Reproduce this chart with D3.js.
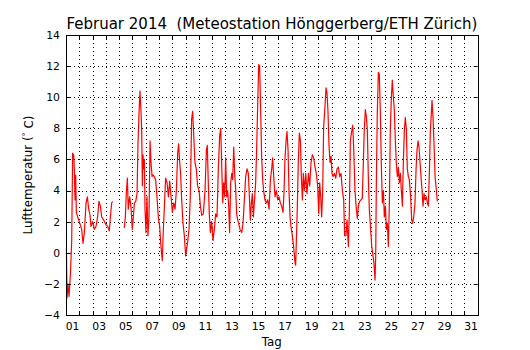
<!DOCTYPE html>
<html>
<head>
<meta charset="utf-8">
<script src="https://cdn.jsdelivr.net/npm/d3@7"></script>
<style>
  body { margin: 0; background: #fff; }
  text { font-family: "DejaVu Sans", sans-serif; fill: #000; }
</style>
</head>
<body>
<script>
// time in days since 1 Feb 00:00, temperature in deg C (null = gap in the record)
const days = [
  0.03, 0.08, 0.15, 0.23, 0.33, 0.43, 0.50, 0.58, 0.63, 0.68, 0.73, 0.78, 0.88, 1.00,
  1.18, 1.28, 1.38, 1.51, 1.61, 1.71, 1.81, 1.88, 2.01, 2.13, 2.26, 2.38, 2.48, 2.59,
  2.69, 2.84, 3.01, 3.14, 3.26, 3.34, 3.44, 3.51, 3.95,
  4.39, 4.47, 4.54, 4.62, 4.69, 4.79, 4.89, 4.99, 5.07, 5.15, 5.25, 5.35, 5.42, 5.50,
  5.57, 5.65, 5.70, 5.75, 5.80, 5.85, 5.90, 5.95, 6.02, 6.10, 6.17, 6.25, 6.33, 6.40,
  6.48, 6.55, 6.65, 6.75, 6.85, 6.95, 7.05, 7.15, 7.25, 7.33, 7.40, 7.50, 7.61, 7.71,
  7.81, 7.91, 8.01, 8.11, 8.21, 8.31, 8.41, 8.48, 8.56, 8.63, 8.71, 8.81, 8.91, 9.01,
  9.09, 9.16, 9.26, 9.36, 9.46, 9.54, 9.61, 9.71, 9.81, 9.91, 10.02, 10.12, 10.22,
  10.34, 10.47, 10.57, 10.64, 10.72, 10.79, 10.87, 10.97, 11.07, 11.17, 11.27, 11.37,
  11.47, 11.57, 11.65, 11.72, 11.80, 11.87, 11.95, 12.02, 12.10, 12.17, 12.25, 12.32,
  12.40, 12.48, 12.55, 12.63, 12.70, 12.78, 12.85, 12.93, 13.00, 13.10, 13.23, 13.33,
  13.43, 13.53, 13.63, 13.73, 13.81, 13.88, 13.96, 14.03, 14.11, 14.18, 14.28, 14.36,
  14.43, 14.51, 14.58, 14.66, 14.73, 14.81, 14.88, 14.98, 15.09, 15.19, 15.29, 15.39,
  15.49, 15.56, 15.64, 15.74, 15.84, 15.94, 16.04, 16.14, 16.24, 16.34, 16.42, 16.49,
  16.57, 16.64, 16.72, 16.79, 16.87, 16.94, 17.04, 17.14, 17.24, 17.29, 17.34, 17.42,
  17.49, 17.57, 17.65, 17.72, 17.80, 17.87, 17.95, 18.05, 18.15, 18.25, 18.35, 18.45,
  18.55, 18.65, 18.75, 18.85, 18.95, 19.03, 19.10, 19.18, 19.25, 19.33, 19.40, 19.50,
  19.58, 19.65, 19.73, 19.80, 19.88, 19.96, 20.03, 20.11, 20.21, 20.31, 20.41, 20.51,
  20.61, 20.71, 20.81, 20.91, 20.98, 21.08, 21.16, 21.26, 21.34, 21.41, 21.51, 21.59,
  21.66, 21.76, 21.86, 21.94, 22.01, 22.11, 22.21, 22.31, 22.39, 22.46, 22.54, 22.62,
  22.69, 22.77, 22.84, 22.94, 23.02, 23.12, 23.19, 23.27, 23.32, 23.37, 23.44, 23.52,
  23.59, 23.67, 23.75, 23.82, 23.90, 23.97, 24.05, 24.12, 24.20, 24.27, 24.35, 24.42,
  24.50, 24.57, 24.65, 24.72, 24.80, 24.87, 24.95, 25.03, 25.10, 25.18, 25.25, 25.33,
  25.40, 25.48, 25.55, 25.63, 25.70, 25.78, 25.85, 25.95, 26.03, 26.10, 26.18, 26.28,
  26.36, 26.43, 26.51, 26.58, 26.66, 26.73, 26.81, 26.88, 26.96, 27.03, 27.13, 27.21,
  27.28, 27.36, 27.43, 27.51, 27.56, 27.64, 27.71, 27.79, 27.89, 27.96
];
const temps = [
  0.3, -2.9, -2.0, -2.8, -1.4, 0.8, 6.4, 6.3, 5.3, 3.4, 5.0, 2.6, 2.3, 2.0,
  1.5, 0.6, 1.3, 3.2, 3.6, 2.8, 2.4, 1.7, 2.0, 1.5, 1.7, 2.3, 3.3, 3.0,
  2.3, 2.1, 1.8, 1.7, 1.4, 2.3, 3.2, 3.3, null,
  1.6, 2.3, 3.8, 4.8, 2.8, 3.6, 3.0, 1.5, 2.3, 3.2, 3.3, 3.8, 7.0, 9.0,
  10.4, 9.0, 7.9, 4.3, 6.3, 5.4, 6.0, 2.8, 1.3, 3.6, 1.1, 2.3, 7.2, 5.8,
  4.9, 5.0, 4.9, 4.7, 3.6, 2.3, 1.7, 0.4, -0.5, 1.5, 2.8, 4.8, 4.5, 3.6,
  4.6, 3.6, 2.6, 3.2, 2.8, 4.0, 6.4, 7.0, 5.8, 5.1, 3.4, 1.9, 1.1, -0.2,
  0.3, 0.7, 1.5, 3.6, 8.6, 9.1, 7.7, 5.8, 5.4, 4.3, 4.0, 3.0, 2.4,
  2.5, 4.0, 6.6, 6.9, 4.3, 2.5, 1.3, 2.0, 0.8, 1.5, 2.5, 2.3,
  5.4, 7.5, 8.0, 5.8, 3.2, 4.5, 3.6, 6.1, 3.6, 4.0, 3.0, 1.3,
  4.5, 5.1, 4.7, 6.8, 5.1, 4.0, 2.5, 2.1, 1.9, 1.5, 1.3, 1.9,
  3.4, 4.9, 5.4, 5.1, 3.6, 2.1, 3.2, 3.8, 2.3, 3.2, 4.5, 6.8,
  9.4, 12.1, 12.0, 9.0, 6.2, 4.7, 4.0, 3.4, 3.2, 3.4, 2.8, 4.7,
  5.4, 6.1, 4.9, 3.6, 4.0, 3.4, 3.6, 3.2, 3.0, 2.6, 4.0, 6.1,
  7.2, 7.8, 6.6, 4.0, 2.3, 1.7, 1.1, 0.4, -0.6, -0.8, 0.6, 3.0,
  5.8, 7.7, 7.2, 4.9, 3.4, 5.1, 4.0, 5.1, 3.8, 5.1, 4.3, 5.8,
  6.3, 6.1, 5.5, 5.1, 4.3, 2.5, 4.5, 3.6, 2.3, 4.0, 8.1, 9.4,
  10.6, 10.3, 9.0, 7.0, 5.8, 6.2, 5.1, 4.9, 5.1, 4.8, 5.4, 5.5,
  4.9, 5.1, 4.0, 3.4, 1.1, 1.1, 2.1, 0.4, 2.8, 7.2, 7.8, 8.2,
  6.8, 4.0, 2.8, 2.2, 3.0, 3.3, 3.4, 3.5, 5.8, 7.9, 9.2, 8.7,
  7.9, 4.7, 2.8, 1.5, 0.4, -0.2, -0.7, -1.75, -0.2, 4.7, 9.0, 11.6,
  11.5, 9.0, 5.4, 3.2, 4.0, 2.3, 3.0, 1.5, 1.9, 0.4, 3.2, 7.9,
  10.0, 11.1, 10.0, 9.2, 7.2, 5.8, 4.9, 5.5, 4.5, 5.1, 4.0, 3.0,
  5.8, 7.9, 8.7, 7.9, 5.4, 4.9, 4.7, 3.6, 2.1, 1.9, 2.3, 3.2,
  5.4, 6.6, 7.2, 6.8, 5.8, 4.9, 4.0, 3.0, 3.8, 3.4, 3.6, 3.2,
  3.0, 5.1, 7.7, 9.0, 9.8, 8.6, 7.0, 4.9, 4.0, 3.3
];
const yTicks = [-4, -2, 0, 2, 4, 6, 8, 10, 12, 14];
const dayTicks = d3.range(0, 32);
const dayLabels = ["01", "03", "05", "07", "09", "11", "13", "15",
                   "17", "19", "21", "23", "25", "27", "29", "31"];

const width = 530, height = 350;
const margin = { top: 35, right: 52.3, bottom: 35, left: 66 };

const svg = d3.select("body").append("svg")
    .attr("width", width)
    .attr("height", height);

const x = d3.scaleLinear().domain([0, 31]).range([margin.left, width - margin.right]);
const y = d3.scaleLinear().domain([-4, 14]).range([height - margin.bottom, margin.top]);

// grid
svg.append("g")
    .selectAll("line")
    .data(dayTicks.slice(1, -1))
    .enter().append("line")
    .attr("x1", d => Math.round(x(d)) + 0.5).attr("x2", d => Math.round(x(d)) + 0.5)
    .attr("y1", y(14)).attr("y2", y(-4))
    .attr("stroke", "#000").attr("stroke-width", 1)
    .attr("stroke-dasharray", "1,3");

svg.append("g")
    .selectAll("line")
    .data(yTicks.slice(1, -1))
    .enter().append("line")
    .attr("x1", x(0)).attr("x2", x(31))
    .attr("y1", d => Math.round(y(d)) + 0.5).attr("y2", d => Math.round(y(d)) + 0.5)
    .attr("stroke", "#000").attr("stroke-width", 1)
    .attr("stroke-dasharray", "1,3");

// temperature line
const data = days.map((d, i) => ({ day: d, t: temps[i] }));
const line = d3.line()
    .defined(d => d.t !== null)
    .x(d => x(d.day))
    .y(d => y(d.t));

svg.append("path")
    .datum(data)
    .attr("fill", "none")
    .attr("stroke", "#ff0000")
    .attr("stroke-width", 1.2)
    .attr("stroke-linejoin", "round")
    .attr("d", line);

// ticks, pointing inward on all four sides
const ticks = svg.append("g").attr("stroke", "#000").attr("stroke-width", 1);
dayTicks.slice(1, -1).forEach(d => {
    const px = Math.round(x(d)) + 0.5;
    ticks.append("line").attr("x1", px).attr("x2", px).attr("y1", y(-4)).attr("y2", y(-4) - 4);
    ticks.append("line").attr("x1", px).attr("x2", px).attr("y1", y(14)).attr("y2", y(14) + 4);
});
yTicks.slice(1, -1).forEach(t => {
    const py = Math.round(y(t)) + 0.5;
    ticks.append("line").attr("x1", x(0)).attr("x2", x(0) + 4).attr("y1", py).attr("y2", py);
    ticks.append("line").attr("x1", x(31)).attr("x2", x(31) - 4).attr("y1", py).attr("y2", py);
});

// frame
svg.append("rect")
    .attr("x", Math.round(x(0)) + 0.5)
    .attr("y", y(14) + 0.5)
    .attr("width", Math.round(x(31)) - Math.round(x(0)))
    .attr("height", y(-4) - y(14))
    .attr("fill", "none")
    .attr("stroke", "#000")
    .attr("stroke-width", 1);

// tick labels
svg.append("g")
    .selectAll("text")
    .data(yTicks)
    .enter().append("text")
    .attr("x", x(0) - 6)
    .attr("y", d => y(d))
    .attr("dy", "0.36em")
    .attr("text-anchor", "end")
    .style("font-size", "10.8px")
    .text(d => d3.format("d")(d));

svg.append("g")
    .selectAll("text")
    .data(dayLabels)
    .enter().append("text")
    .attr("x", d => x(+d - 0.5))
    .attr("y", y(-4) + 15)
    .attr("text-anchor", "middle")
    .style("font-size", "10.8px")
    .text(d => d);

// titles
svg.append("text")
    .attr("x", (x(0) + x(31)) / 2)
    .attr("y", 28.5)
    .attr("text-anchor", "middle")
    .style("font-size", "15px")
    .style("white-space", "pre")
    .text("Februar 2014  (Meteostation Hönggerberg/ETH Zürich)");

svg.append("text")
    .attr("x", (x(0) + x(31)) / 2)
    .attr("y", 346)
    .attr("text-anchor", "middle")
    .style("font-size", "11.8px")
    .text("Tag");

const yl = svg.append("text")
    .attr("transform", "translate(32," + y(5) + ") rotate(-90)")
    .attr("text-anchor", "middle")
    .style("font-size", "11.8px");
yl.append("tspan").text("Lufttemperatur (");
yl.append("tspan").attr("dy", "-0.4em").style("font-size", "8.5px").text("°");
yl.append("tspan").attr("dy", "0.4em").text(" C)");
</script>
</body>
</html>
